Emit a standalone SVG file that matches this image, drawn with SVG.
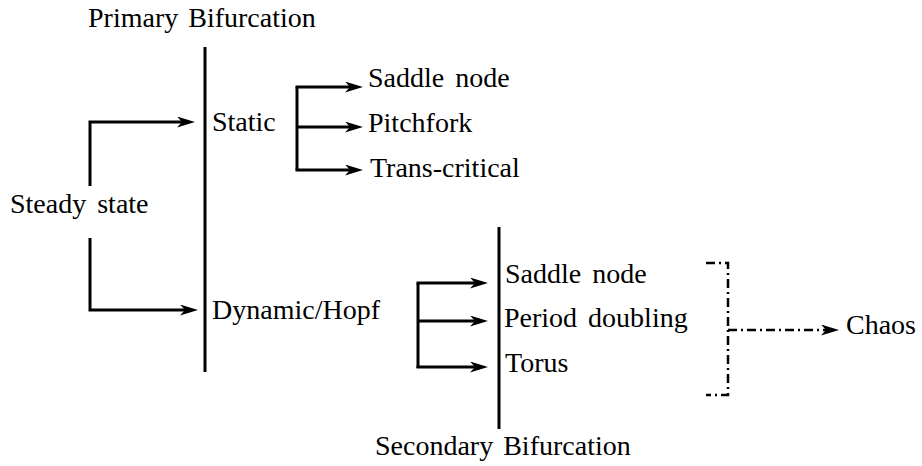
<svg xmlns="http://www.w3.org/2000/svg" width="922" height="466" viewBox="0 0 922 466">
  <style>
    .ln { fill: none; stroke: #000; stroke-width: 3; stroke-linecap: butt; stroke-linejoin: miter; }
    .arr { marker-end: url(#head); }
    .dd { fill: none; stroke: #000; stroke-width: 2.5; stroke-dasharray: 9 4 2 4; }
  </style>
  <defs>
    <!-- stealth-style arrowhead, anchored at its notch -->
    <marker id="head" markerUnits="userSpaceOnUse" viewBox="0 0 18 11" refX="5" refY="5.5" markerWidth="18" markerHeight="11" orient="auto">
      <path d="M0,0 L18,5.5 L0,11 L5,5.5 Z" fill="#000"/>
    </marker>
  </defs>

  <rect width="922" height="466" fill="#fff"/>

  <!-- bifurcation bars and connectors -->
  <g id="connectors">
    <!-- primary bar -->
    <line class="ln" x1="205" y1="47" x2="205" y2="372"/>
    <!-- secondary bar -->
    <line class="ln" x1="499" y1="227" x2="499" y2="429"/>

    <!-- steady state to static / dynamic -->
    <path class="ln arr" d="M90,186 V122 H182"/>
    <path class="ln arr" d="M90,238 V310 H185"/>

    <!-- static branches -->
    <path class="ln" d="M297,87 V170"/>
    <path class="ln arr" d="M295.5,87 H350"/>
    <path class="ln arr" d="M297,127 H350"/>
    <path class="ln arr" d="M295.5,170 H350"/>

    <!-- dynamic branches -->
    <path class="ln" d="M418,283 V368"/>
    <path class="ln arr" d="M416.5,283 H475"/>
    <path class="ln arr" d="M418,321 H475"/>
    <path class="ln arr" d="M416.5,367 H475"/>

    <!-- route to chaos -->
    <path class="dd" d="M706,263 H728 V395 H706"/>
    <path class="dd arr" d="M728,330 H826"/>
  </g>

  <g id="label-primary"><text font-family="Liberation Serif, serif" font-size="28" x="88" y="27" word-spacing="3">Primary Bifurcation</text></g>
  <g id="node-steady"><text font-family="Liberation Serif, serif" font-size="28" x="10" y="213" word-spacing="4">Steady state</text></g>
  <g id="node-static"><text font-family="Liberation Serif, serif" font-size="28" x="212" y="131">Static</text></g>
  <g id="node-saddle1"><text font-family="Liberation Serif, serif" font-size="28" x="368" y="87" word-spacing="4">Saddle node</text></g>
  <g id="node-pitchfork"><text font-family="Liberation Serif, serif" font-size="28" x="368" y="132">Pitchfork</text></g>
  <g id="node-transcritical"><text font-family="Liberation Serif, serif" font-size="28" x="370" y="177">Trans-critical</text></g>
  <g id="node-dynamic"><text font-family="Liberation Serif, serif" font-size="28" x="212" y="319">Dynamic/Hopf</text></g>
  <g id="node-saddle2"><text font-family="Liberation Serif, serif" font-size="28" x="505" y="283" word-spacing="4">Saddle node</text></g>
  <g id="node-period"><text font-family="Liberation Serif, serif" font-size="28" x="504" y="327" word-spacing="4">Period doubling</text></g>
  <g id="node-torus"><text font-family="Liberation Serif, serif" font-size="28" x="505" y="372">Torus</text></g>
  <g id="node-chaos"><text font-family="Liberation Serif, serif" font-size="28" x="846" y="334">Chaos</text></g>
  <g id="label-secondary"><text font-family="Liberation Serif, serif" font-size="28" x="375" y="455" word-spacing="3">Secondary Bifurcation</text></g>
</svg>
